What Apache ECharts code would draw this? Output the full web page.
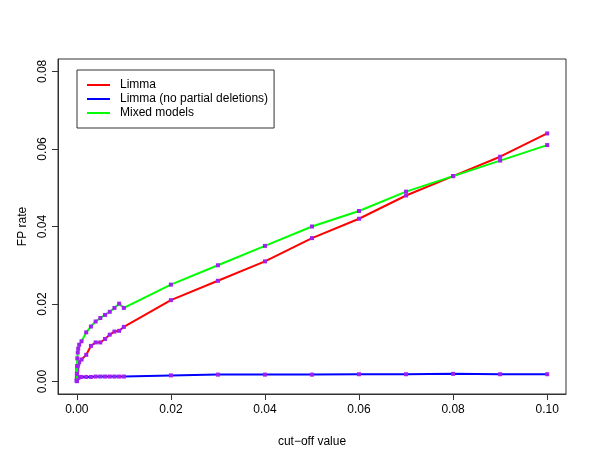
<!DOCTYPE html>
<html>
<head>
<meta charset="utf-8">
<script src="https://cdn.jsdelivr.net/npm/echarts@6/dist/echarts.min.js"></script>
<style>html,body{margin:0;padding:0;background:#fff}#c{width:600px;height:464px}</style>
</head>
<body>
<div id="c"></div>
<script>
var cutoffs = [0, 0.00001, 0.00005, 0.0001, 0.0002, 0.0003, 0.0005,
  0.001, 0.002, 0.003, 0.004, 0.005, 0.006, 0.007, 0.008, 0.009, 0.01,
  0.02, 0.03, 0.04, 0.05, 0.06, 0.07, 0.08, 0.09, 0.10];
var limma = [0.0002, 0.001, 0.002, 0.003, 0.004, 0.0045, 0.005,
  0.0057, 0.0069, 0.0092, 0.0101, 0.0101, 0.011, 0.0121, 0.0129, 0.0131, 0.0141,
  0.021, 0.026, 0.031, 0.037, 0.042, 0.048, 0.053, 0.058, 0.064];
var limmaNoPartial = [0.0001, 0.0004, 0.0007, 0.0009, 0.001, 0.0011, 0.0011,
  0.0012, 0.0012, 0.0012, 0.0013, 0.0013, 0.0013, 0.0013, 0.0013, 0.0013, 0.0013,
  0.0016, 0.0018, 0.0018, 0.0018, 0.0019, 0.0019, 0.002, 0.0019, 0.0019];
var mixedModels = [0.0003, 0.002, 0.004, 0.006, 0.0075, 0.0085, 0.0095,
  0.0104, 0.0127, 0.0142, 0.0155, 0.0164, 0.0172, 0.018, 0.019, 0.0201, 0.0190,
  0.025, 0.030, 0.035, 0.040, 0.044, 0.049, 0.053, 0.057, 0.061];
var xTicks = [0, 0.02, 0.04, 0.06, 0.08, 0.10];
var yTicks = [0, 0.02, 0.04, 0.06, 0.08];
var seriesNames = ['Limma', 'Limma (no partial deletions)', 'Mixed models'];
var seriesColors = ['#ff0000', '#0000ff', '#00ff00'];
var seriesValues = [limma, limmaNoPartial, mixedModels];

var font = '"Liberation Sans", Arial, Helvetica, sans-serif';
var chart = echarts.init(document.getElementById('c'), null, {renderer: 'canvas'});
var series = seriesNames.map(function (name, i) {
  return {
    name: name,
    type: 'line',
    data: cutoffs.map(function (x, j) { return [x, seriesValues[i][j]]; }),
    symbol: 'rect',
    symbolSize: 4,
    showSymbol: true,
    showAllSymbol: true,
    itemStyle: {color: '#a020f0'},
    lineStyle: {color: seriesColors[i], width: 2},
    emphasis: {disabled: true},
    z: 2 + i
  };
});
chart.setOption({
  animation: false,
  backgroundColor: '#fff',
  textStyle: {fontFamily: font},
  grid: {left: 58, right: 34, top: 59, bottom: 70, show: true, borderColor: '#333', borderWidth: 1, outerBoundsMode: 'none'},
  legend: {
    left: 77, top: 70, orient: 'vertical',
    borderColor: '#333', borderWidth: 1, borderRadius: 0,
    padding: [8, 6, 8, 10], itemGap: 0,
    itemWidth: 23, itemHeight: 2, icon: 'rect',
    textStyle: {fontSize: 12, color: '#000', fontFamily: font, lineHeight: 14, padding: [0, 0, 0, 5]},
    data: seriesNames.map(function (n, i) { return {name: n, itemStyle: {color: seriesColors[i]}}; })
  },
  xAxis: {
    type: 'value', min: -0.004, max: 0.104,
    name: 'cut\u2212off value', nameLocation: 'middle', nameGap: 42,
    nameTextStyle: {fontSize: 12, color: '#000', fontFamily: font},
    axisLine: {show: true, onZero: false, lineStyle: {color: '#333'}},
    axisTick: {show: true, inside: false, length: 6, customValues: xTicks, lineStyle: {color: '#333'}},
    axisLabel: {customValues: xTicks, margin: 10, fontSize: 12, color: '#000', fontFamily: font,
      formatter: function (v) { return v.toFixed(2); }},
    splitLine: {show: false}
  },
  yAxis: {
    type: 'value', min: -0.0032, max: 0.0832,
    name: 'FP rate', nameLocation: 'middle', nameGap: 27,
    nameTextStyle: {fontSize: 12, color: '#000', fontFamily: font},
    axisLine: {show: true, onZero: false, lineStyle: {color: '#333'}},
    axisTick: {show: true, inside: false, length: 6, customValues: yTicks, lineStyle: {color: '#333'}},
    axisLabel: {customValues: yTicks, rotate: 90, margin: 9, fontSize: 12, color: '#000', fontFamily: font,
      formatter: function (v) { return v.toFixed(2); }},
    splitLine: {show: false}
  },
  series: series
});
</script>
</body>
</html>
